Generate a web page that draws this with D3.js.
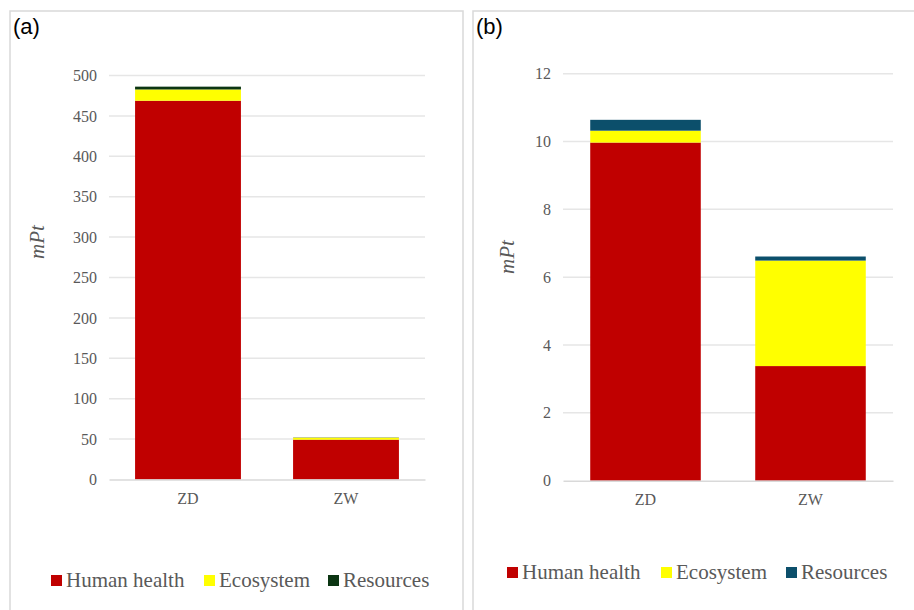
<!DOCTYPE html>
<html>
<head>
<meta charset="utf-8">
<script src="https://cdn.jsdelivr.net/npm/d3@7"></script>
<style>
  html, body { margin: 0; padding: 0; background: #fff; }
  svg { display: block; }
  .serif { font-family: "Liberation Serif", "DejaVu Serif", serif; }
  .sans { font-family: "Liberation Sans", Arial, sans-serif; }
</style>
</head>
<body>
<svg id="chart" width="914" height="610"></svg>
<script>
// Categories and stacked damage scores (mPt)
const categories = ["ZD", "ZW"];
const seriesNames = ["Human health", "Ecosystem", "Resources"];

// Panel (a)
const humanHealthA = [468.8, 49.3];
const ecosystemA = [13.9, 2.4];
const resourcesA = [3.5, 0.3];
const ticksA = [0, 50, 100, 150, 200, 250, 300, 350, 400, 450, 500];

// Panel (b)
const humanHealthB = [9.97, 3.38];
const ecosystemB = [0.35, 3.11];
const resourcesB = [0.32, 0.12];
const ticksB = [0, 2, 4, 6, 8, 10, 12];

const colorsA = ["#c00000", "#ffff00", "#0b3512"];
const colorsB = ["#c00000", "#ffff00", "#0c4f6b"];

const svg = d3.select("#chart");

function drawPanel(cfg) {
  const g = svg.append("g");

  // panel frame
  g.append("rect")
    .attr("x", cfg.frame[0]).attr("y", cfg.frame[1])
    .attr("width", cfg.frame[2]).attr("height", cfg.frame[3])
    .attr("fill", "#fff").attr("stroke", "#d9d9d9").attr("stroke-width", 1.5);

  g.append("text")
    .attr("class", "sans")
    .attr("x", cfg.frame[0] + 3).attr("y", 34)
    .style("font-size", "22px").attr("fill", "#000")
    .text(cfg.label);

  const rows = categories.map((c, i) => ({
    cat: c,
    "Human health": cfg.values[0][i],
    "Ecosystem": cfg.values[1][i],
    "Resources": cfg.values[2][i]
  }));
  const stacked = d3.stack().keys(seriesNames)(rows);

  const x = d3.scaleBand().domain(categories)
    .range([cfg.x0, cfg.x1]).paddingInner(0.33).paddingOuter(0.165);
  const y = d3.scaleLinear().domain([0, cfg.ticks[cfg.ticks.length - 1]])
    .range([cfg.y0, cfg.y1]);

  // gridlines
  g.append("g").selectAll("line").data(cfg.ticks.filter(t => t > 0)).join("line")
    .attr("x1", cfg.x0).attr("x2", cfg.x1)
    .attr("y1", d => y(d)).attr("y2", d => y(d))
    .attr("stroke", "#e6e6e6").attr("stroke-width", 1.5);

  // y axis tick labels
  const yAxis = d3.axisLeft(y).tickValues(cfg.ticks).tickSize(0).tickPadding(0);
  const ya = g.append("g").attr("transform", `translate(${cfg.x0 - 12},0)`).call(yAxis)
    .attr("font-family", null).attr("font-size", null);
  ya.select(".domain").remove();
  ya.selectAll("text")
    .attr("class", "serif")
    .style("font-size", "16px").attr("fill", "#595959");

  // stacked bars
  g.append("g").selectAll("g").data(stacked).join("g")
    .attr("fill", (d, i) => cfg.colors[i])
    .selectAll("rect").data(d => d).join("rect")
    .attr("x", d => x(d.data.cat))
    .attr("width", x.bandwidth())
    .attr("y", d => y(d[1]))
    .attr("height", d => Math.max(0, y(d[0]) - y(d[1])));

  // category axis
  const xAxis = d3.axisBottom(x).tickSize(0).tickPadding(13);
  const xa = g.append("g").attr("transform", `translate(0,${cfg.y0})`).call(xAxis)
    .attr("font-family", null).attr("font-size", null);
  xa.select(".domain").attr("stroke", "#d9d9d9").attr("stroke-width", 1.5);
  xa.selectAll("text")
    .attr("class", "serif")
    .style("font-size", "16px").attr("fill", "#595959");

  // axis title
  g.append("text")
    .attr("class", "serif")
    .attr("transform", `translate(${cfg.titleX},${cfg.titleY}) rotate(-90)`)
    .attr("text-anchor", "middle")
    .style("font-style", "italic")
    .style("font-size", "21px").attr("fill", "#595959")
    .text("mPt");

  // legend
  const lg = g.append("g");
  seriesNames.forEach((name, i) => {
    lg.append("rect")
      .attr("x", cfg.legendX[i]).attr("y", cfg.legendY - 11)
      .attr("width", 11).attr("height", 11)
      .attr("fill", cfg.colors[i]);
    lg.append("text")
      .attr("class", "serif")
      .attr("x", cfg.legendX[i] + 15).attr("y", cfg.legendY + 1)
      .style("font-size", "21px").attr("fill", "#595959")
      .text(name);
  });
}

drawPanel({
  label: "(a)",
  frame: [10, 11, 453, 620],
  values: [humanHealthA, ecosystemA, resourcesA],
  ticks: ticksA,
  colors: colorsA,
  x0: 109, x1: 425, y0: 479.5, y1: 75.5,
  titleX: 44, titleY: 242,
  legendX: [51, 204, 328],
  legendY: 586
});

drawPanel({
  label: "(b)",
  frame: [473, 11, 445, 620],
  values: [humanHealthB, ecosystemB, resourcesB],
  ticks: ticksB,
  colors: colorsB,
  x0: 563, x1: 893, y0: 480.7, y1: 73.7,
  titleX: 514, titleY: 257,
  legendX: [507, 661, 786],
  legendY: 578
});
</script>
</body>
</html>
